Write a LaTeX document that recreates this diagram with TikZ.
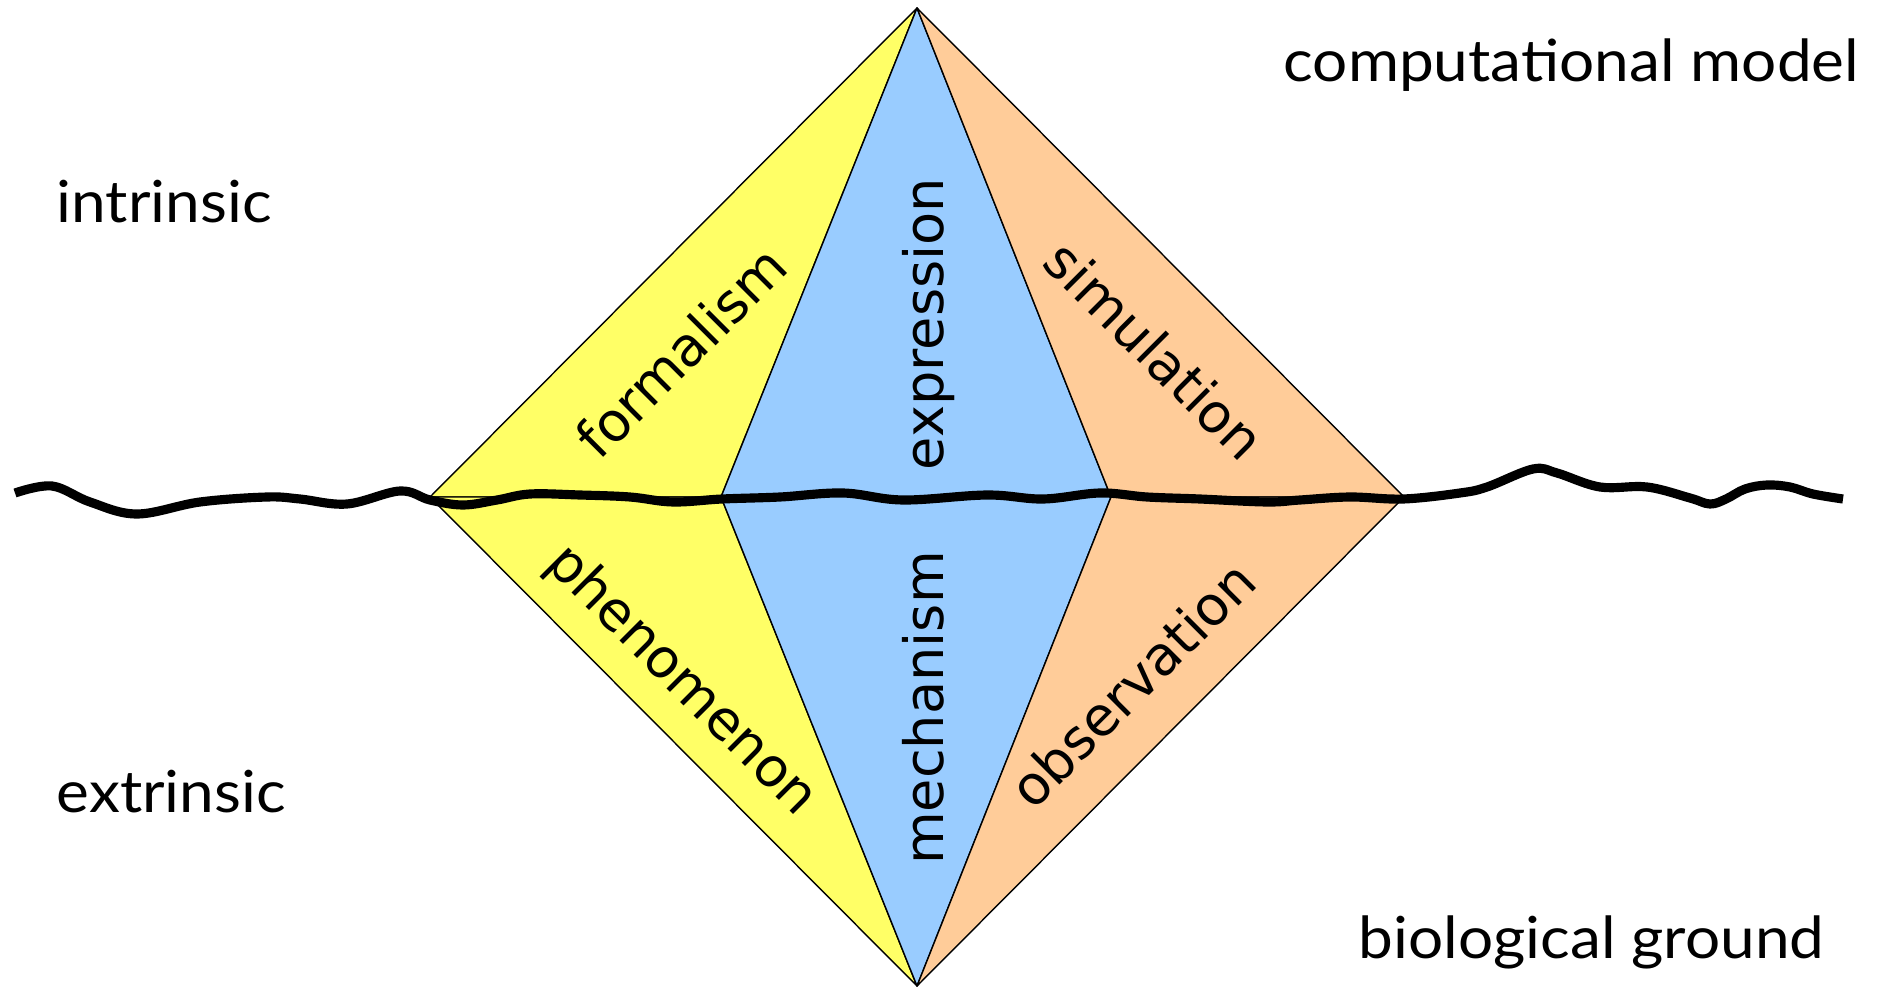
\documentclass[tikz,border=0pt]{standalone}
\usepackage{fontspec}
\setmainfont{DejaVu Sans}
\newfontfamily\cornerfont[FakeStretch=1.07]{Lato}
\begin{document}
\begin{tikzpicture}[x=0.01cm,y=-0.01cm,
  facet/.style={draw=black,line width=0.4pt,line join=round},
  facetlabel/.style={font=\fontsize{15.4pt}{18pt}\selectfont,inner sep=0pt},
  cornerlabel/.style={font=\cornerfont\fontsize{16.5pt}{20pt}\selectfont,inner sep=0pt,anchor=base west},
  horizon/.style={line width=2.6pt,line join=round}]
\definecolor{facetyellow}{HTML}{FFFF66}
\definecolor{facetblue}{HTML}{99CCFF}
\definecolor{facetorange}{HTML}{FFCC99}
\useasboundingbox (0,0) rectangle (1881,988);

% vertices of the double pyramid
\coordinate (T)  at (917,8);
\coordinate (B)  at (917,986);
\coordinate (L)  at (430,497);
\coordinate (R)  at (1404,497);
\coordinate (IL) at (721,497);
\coordinate (IR) at (1111,497);

% facets
\filldraw[facet,fill=facetyellow] (T) -- (L) -- (IL) -- cycle;
\filldraw[facet,fill=facetyellow] (B) -- (L) -- (IL) -- cycle;
\filldraw[facet,fill=facetblue]   (T) -- (IL) -- (B) -- (IR) -- cycle;
\filldraw[facet,fill=facetorange] (T) -- (IR) -- (R) -- cycle;
\filldraw[facet,fill=facetorange] (B) -- (IR) -- (R) -- cycle;

% facet labels
\node[facetlabel,rotate=45]  (formalism)   at (681,352)  {formalism};
\node[facetlabel,rotate=-45] (simulation)  at (1155,350) {simulation};
\node[facetlabel,rotate=-45] (phenomenon)  at (681,681)  {phenomenon};
\node[facetlabel,rotate=45]  (observation) at (1132,684) {observation};
\node[facetlabel,rotate=90,anchor=base] (expression) at (943,324) {expression};
\node[facetlabel,rotate=90,anchor=base] (mechanism)  at (943,708) {mechanism};

% corner labels
\node[cornerlabel] (model)     at (1283,82)  {computational model};
\node[cornerlabel] (intrinsic) at (56,223)   {intrinsic};
\node[cornerlabel] (extrinsic) at (56,812)   {extrinsic};
\node[cornerlabel] (ground)    at (1358,958) {biological ground};

% wavy horizon line
\draw[horizon] plot[smooth,tension=0.6] coordinates {
  (15,493) (52,486) (90,502) (137,514) (200,502) (267,497) (300,499)
  (347,504) (400,491) (430,500) (463,505) (497,500) (530,494) (580,495)
  (630,497) (673,502) (722,499) (780,497) (843,493) (903,500) (987,495)
  (1043,499) (1100,493) (1147,497) (1200,499) (1267,502) (1300,500)
  (1350,497) (1403,499) (1460,493) (1487,487) (1533,469) (1557,473)
  (1600,487) (1647,487) (1690,498) (1710,504) (1726,499) (1745,489)
  (1767,485) (1790,487) (1813,494) (1843,499)};
\end{tikzpicture}
\end{document}
